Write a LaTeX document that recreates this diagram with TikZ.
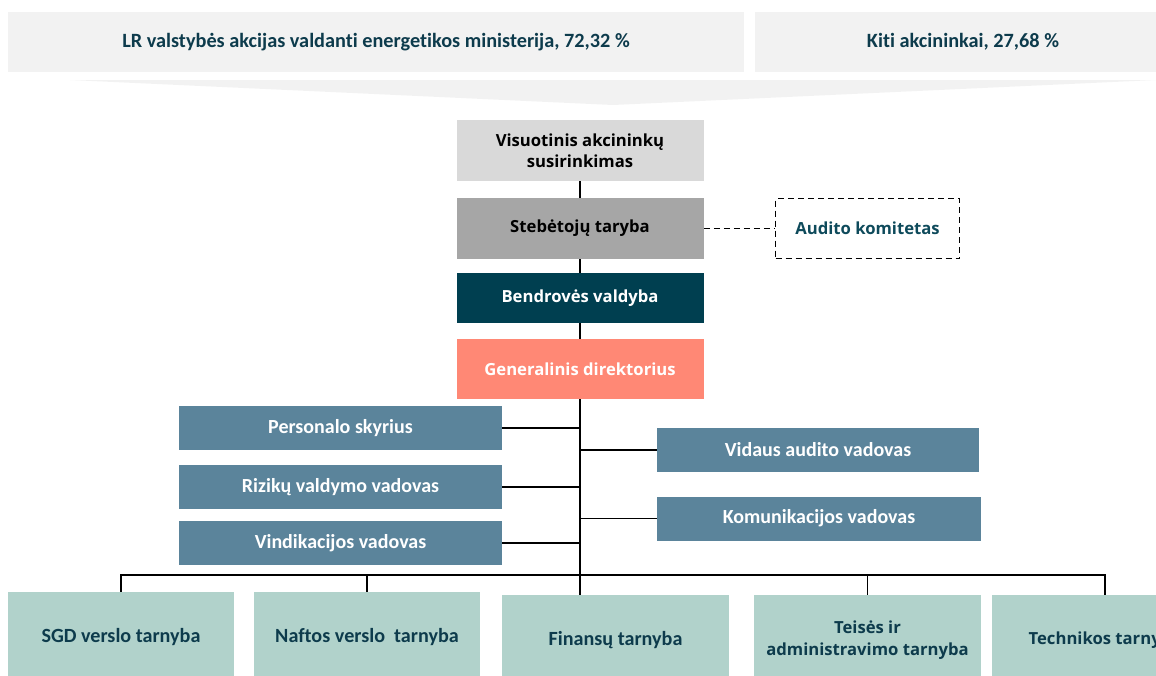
\documentclass[tikz,border=0pt]{standalone}
\usepackage{fontspec}
\newfontfamily\segoe{Open Sans}
\newfontfamily\calib[Ligatures=NoCommon]{Carlito}
\definecolor{topbg}{HTML}{F2F2F2}
\definecolor{toptext}{HTML}{0D3B4C}
\definecolor{visfill}{HTML}{D9D9D9}
\definecolor{stebfill}{HTML}{A6A6A6}
\definecolor{bendfill}{HTML}{003F50}
\definecolor{genfill}{HTML}{FF8875}
\definecolor{bluefill}{HTML}{5B849B}
\definecolor{greenfill}{HTML}{B1D2CB}
\definecolor{audtext}{HTML}{0E4A5B}
\tikzset{
  sz/.style 2 args={minimum width={#1*0.75pt}, minimum height={#2*0.75pt}, inner sep=0pt, draw=none, align=center},
  topbox/.style={fill=topbg, text=toptext, font=\calib\bfseries\fontsize{15.2}{18}\selectfont},
  segbox/.style={font=\segoe\bfseries\fontsize{12.5}{16}\selectfont},
  bluebox/.style={fill=bluefill, text=white, font=\calib\bfseries\fontsize{15}{18}\selectfont},
  greenbox/.style={fill=greenfill, text=toptext},
  gcal/.style={font=\calib\bfseries\fontsize{15.1}{18}\selectfont},
  conn/.style={draw=black, line width=1.25pt},
}
\begin{document}
\begin{tikzpicture}[x=0.75pt, y=-0.75pt]
\useasboundingbox (0,0) rectangle (1156,675);
\clip (0,0) rectangle (1156,675);
% top bars
\node[topbox, sz={736}{60}] (min) at (376,42) {LR valstybės akcijas valdanti energetikos ministerija, 72,32 \%};
\node[topbox, sz={416}{60}] (kiti) at (963,42) {Kiti akcininkai, 27,68 \%};
% chevron
\fill[topbg] (70,80) -- (1156,80) -- (613,105) -- cycle;
% central column
\node[segbox, sz={247}{61}, fill=visfill, text=black] (vis) at (580,150.5) {Visuotinis akcininkų\\susirinkimas};
\node[segbox, sz={247}{61}, fill=stebfill, text=black] (steb) at (580,228.5) {Stebėtojų taryba};
\node[segbox, sz={247}{50}, fill=bendfill, text=white] (bend) at (580,298) {Bendrovės valdyba};
\node[segbox, sz={247}{60}, fill=genfill, text=white] (gen) at (580,369) {Generalinis direktorius};
\node[segbox, sz={184}{60}, draw=black, line width=1.25pt, dash pattern=on 4.5pt off 3pt, text=audtext] (aud) at (867.5,228.5) {Audito komitetas};
% staff boxes
\node[bluebox, sz={323}{44}] (per) at (340.5,428) {Personalo skyrius};
\node[bluebox, sz={323}{44}] (riz) at (340.5,487) {Rizikų valdymo vadovas};
\node[bluebox, sz={323}{44}] (vin) at (340.5,543) {Vindikacijos vadovas};
\node[bluebox, sz={322}{44}] (vid) at (818,450) {Vidaus audito vadovas};
\node[bluebox, sz={324}{44}] (kom) at (819,518.5) {Komunikacijos vadovas};
% bottom services
\node[greenbox, gcal, sz={226}{90}] (sgd) at (121,637) {SGD verslo tarnyba};
\node[greenbox, gcal, sz={226}{90}] (naf) at (367,637) {Naftos verslo\ \ tarnyba};
\node[greenbox, gcal, sz={227}{90}] (fin) at (615.5,640) {Finansų tarnyba};
\node[greenbox, segbox, sz={227}{90}] (tei) at (867.5,640) {Teisės ir\\administravimo tarnyba};
\node[greenbox, segbox, sz={227}{90}] (tech) at (1105,640) {Technikos tarnyba};
\coordinate (bus) at (580,575);
% connectors
\draw[conn] (vis) -- (steb);
\draw[conn] (steb) -- (bend);
\draw[conn] (bend) -- (gen);
\draw[conn] (gen.south) -- (gen.south |- fin.north);
\draw[conn, dash pattern=on 4.5pt off 3pt] (steb.east) -- (aud.west);
\draw[conn] (per.east) -- (per.east -| gen.south);
\draw[conn] (riz.east) -- (riz.east -| gen.south);
\draw[conn] (vin.east) -- (vin.east -| gen.south);
\draw[conn] (vid.west) -- (vid.west -| gen.south);
\draw[conn] (kom.west) -- (kom.west -| gen.south);
\draw[conn] (sgd.north) -- (sgd.north |- bus) -- (tech.north |- bus) -- (tech.north);
\draw[conn] (naf.north) -- (naf.north |- bus);
\draw[conn] (tei.north) -- (tei.north |- bus);
\end{tikzpicture}
\end{document}
